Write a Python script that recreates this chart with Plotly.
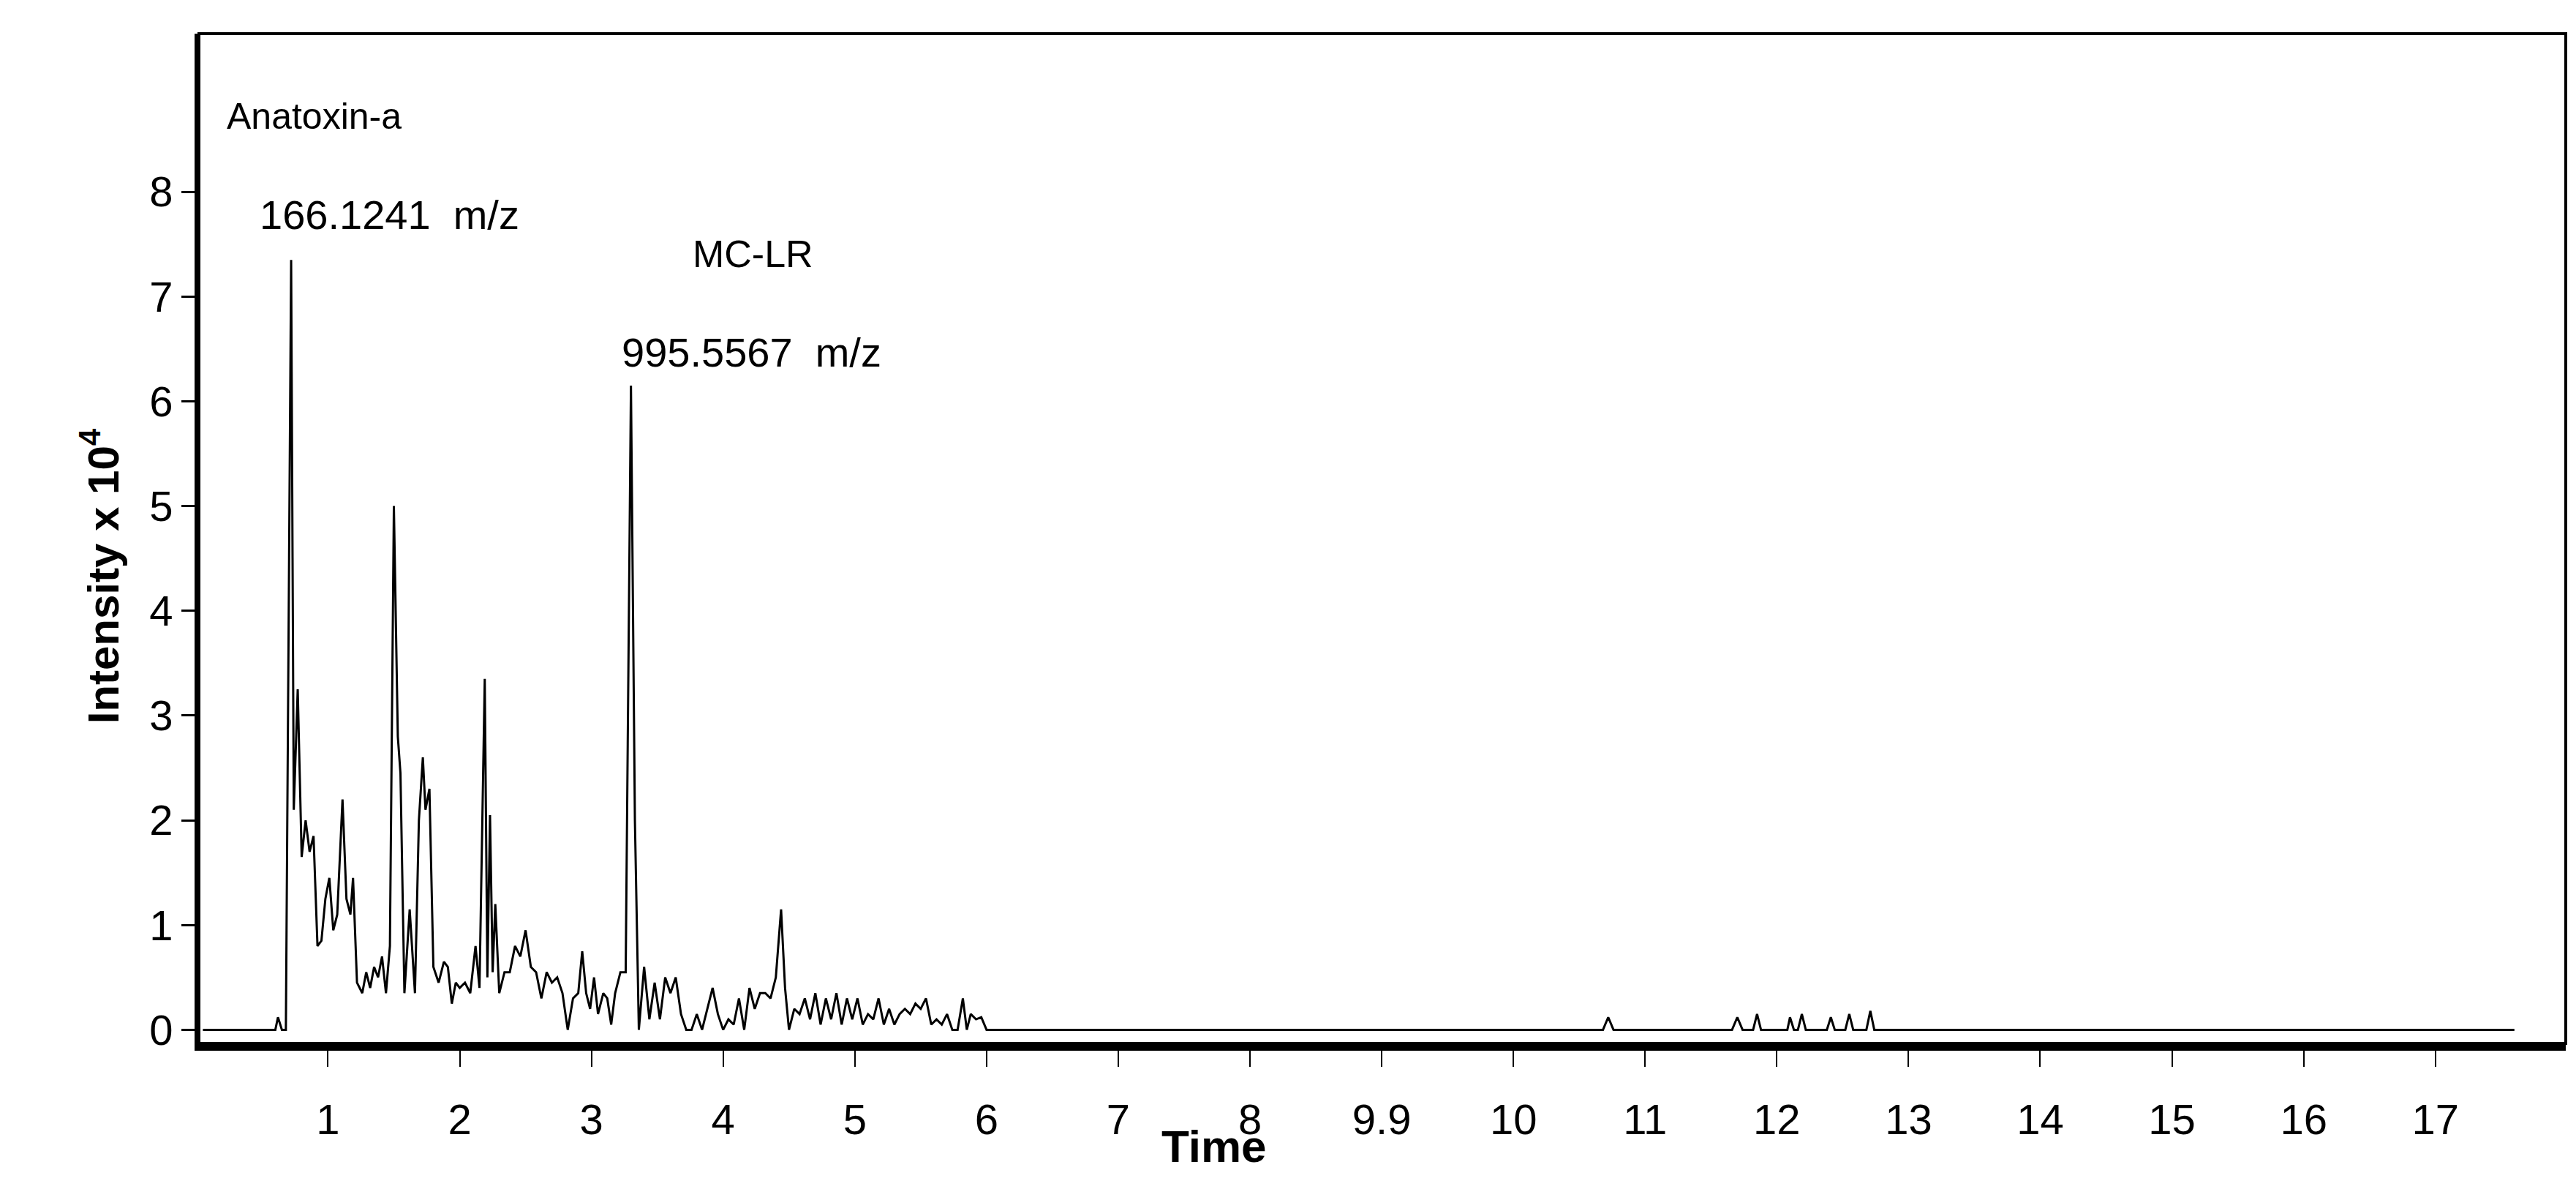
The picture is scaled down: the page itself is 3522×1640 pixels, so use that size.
import plotly.graph_objects as go

time = [0.05,0.6,0.62,0.65,0.68,0.72,0.74,0.77,0.80,0.83,0.86,0.89,0.92,0.95,0.98,1.01,1.04,1.07,1.11,1.14,1.17,1.19,1.22,1.26,1.29,1.32,1.35,1.38,1.41,1.44,1.47,1.50,1.53,1.55,1.58,1.62,1.66,1.69,1.72,1.74,1.77,1.80,1.84,1.88,1.91,1.94,1.97,2.0,2.04,2.08,2.12,2.15,2.19,2.21,2.23,2.25,2.27,2.30,2.34,2.38,2.42,2.46,2.50,2.54,2.58,2.62,2.66,2.70,2.74,2.78,2.82,2.86,2.90,2.93,2.96,2.99,3.02,3.05,3.09,3.12,3.15,3.18,3.22,3.26,3.30,3.33,3.36,3.40,3.44,3.48,3.52,3.56,3.60,3.64,3.68,3.72,3.76,3.80,3.84,3.88,3.92,3.96,4.00,4.04,4.08,4.12,4.16,4.20,4.24,4.28,4.32,4.36,4.40,4.44,4.47,4.50,4.54,4.58,4.62,4.66,4.70,4.74,4.78,4.82,4.86,4.90,4.94,4.98,5.02,5.06,5.10,5.14,5.18,5.22,5.26,5.30,5.34,5.38,5.42,5.46,5.50,5.54,5.58,5.62,5.66,5.70,5.74,5.78,5.82,5.85,5.88,5.92,5.96,6.0,10.68,10.72,10.76,11.66,11.7,11.74,11.82,11.85,11.88,12.08,12.1,12.13,12.16,12.19,12.22,12.38,12.41,12.44,12.52,12.55,12.58,12.68,12.71,12.74,17.6]
intensity = [0,0,0.12,0,0,7.35,2.1,3.25,1.65,2.0,1.7,1.85,0.8,0.85,1.25,1.45,0.95,1.1,2.2,1.25,1.1,1.45,0.45,0.35,0.55,0.4,0.6,0.5,0.7,0.35,0.8,5.0,2.8,2.45,0.35,1.15,0.35,2.0,2.6,2.1,2.3,0.6,0.45,0.65,0.6,0.25,0.45,0.4,0.45,0.35,0.8,0.4,3.35,0.5,2.05,0.55,1.2,0.35,0.55,0.55,0.8,0.7,0.95,0.6,0.55,0.3,0.55,0.45,0.5,0.35,0.0,0.3,0.35,0.75,0.35,0.2,0.5,0.15,0.35,0.3,0.05,0.35,0.55,0.55,6.15,2.0,0.0,0.6,0.1,0.45,0.1,0.5,0.35,0.5,0.15,0.0,0.0,0.15,0.0,0.2,0.4,0.15,0.0,0.1,0.05,0.3,0.0,0.4,0.2,0.35,0.35,0.3,0.5,1.15,0.4,0.0,0.2,0.15,0.3,0.1,0.35,0.05,0.3,0.1,0.35,0.05,0.3,0.1,0.3,0.05,0.15,0.1,0.3,0.05,0.2,0.05,0.15,0.2,0.15,0.25,0.2,0.3,0.05,0.1,0.05,0.15,0.0,0.0,0.3,0.0,0.15,0.1,0.12,0.0,0,0.12,0,0,0.12,0,0,0.15,0,0,0.12,0,0,0.15,0,0,0.12,0,0,0.15,0,0,0.18,0,0]

x_ticks = list(range(1, 18))
x_tick_labels = [str(v) if v != 9 else "9.9" for v in x_ticks]
y_ticks = list(range(0, 9))

FONT = "Liberation Sans, Arial, sans-serif"

fig = go.Figure(go.Scatter(x=time, y=intensity, mode="lines",
                           line=dict(color="black", width=3), hoverinfo="skip"))

fig.update_layout(
    width=3522, height=1640, showlegend=False,
    paper_bgcolor="white", plot_bgcolor="white",
    margin=dict(l=264, r=22, t=38, b=222),
    font=dict(family=FONT, color="black", size=56),
    xaxis=dict(range=[0.02, 17.99], tickvals=x_ticks, ticktext=x_tick_labels,
               ticks="outside", ticklen=22, tickwidth=2, tickcolor="black",
               ticklabelstandoff=22,
               showline=True, linecolor="black", linewidth=10, showgrid=False,
               zeroline=False, tickfont=dict(size=58)),
    yaxis=dict(range=[-0.13, 9.51], tickvals=y_ticks, ticks="outside", ticklen=18,
               tickwidth=3, tickcolor="black", showline=True, linecolor="black",
               linewidth=6, showgrid=False, zeroline=False, tickfont=dict(size=58)),
    shapes=[dict(type="rect", xref="paper", yref="paper", x0=0, x1=1, y0=0, y1=1,
                 line=dict(color="black", width=4))],
    annotations=[
        dict(x=0.22, y=8.72, text="Anatoxin-a", showarrow=False, xanchor="left", font=dict(size=50)),
        dict(x=0.47, y=7.78, text="166.1241  m/z", showarrow=False, xanchor="left", font=dict(size=56)),
        dict(x=3.76, y=7.41, text="MC-LR", showarrow=False, xanchor="left", font=dict(size=52)),
        dict(x=3.22, y=6.47, text="995.5567  m/z", showarrow=False, xanchor="left", font=dict(size=56)),
        dict(xref="paper", yref="paper", x=-0.054, y=0.463, text="<b>Intensity x 10<sup>4</sup></b>",
             textangle=-90, showarrow=False, font=dict(size=60)),
        dict(xref="paper", yref="paper", x=0.429, y=-0.128, text="<b>Time</b>",
             showarrow=False, font=dict(size=62)),
    ],
)

fig.write_html("out.html")
